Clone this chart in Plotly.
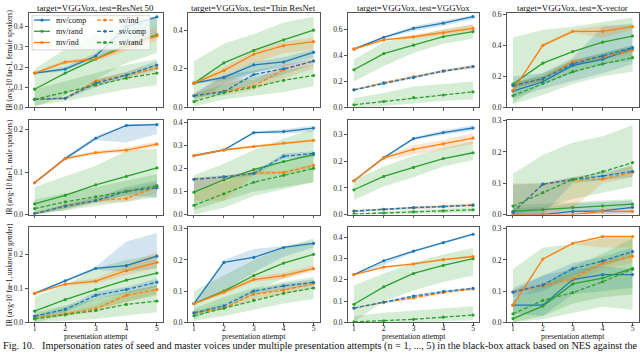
import plotly.graph_objects as go
from plotly.subplots import make_subplots

# --- data ---
attempts = [1, 2, 3, 4, 5]
series = ["mv/comp", "mv/rand", "mv/ind", "sv/ind", "sv/comp", "sv/rand"]
col_titles = ["target=VGGVox, test=ResNet 50", "target=VGGVox, test=Thin ResNet",
              "target=VGGVox, test=VGGVox", "target=VGGVox, test=X-vector"]
row_titles = ["IR (avg-10 far-1, female speakers)", "IR (avg-10 far-1, male speakers)",
              "IR (avg-10 far-1, unknown gender)"]
x_title = "presentation attempt"
caption = ("Fig. 10.&nbsp;&nbsp; Impersonation rates of seed and master voices under multiple presentation "
           "attempts (n = 1, ..., 5) in the black-box attack based on NES against the")

# each series: (mean, low, high)
female_resnet50 = {
    "mv/comp": ([0.17, 0.19, 0.255, 0.40, 0.45], [0.165, 0.18, 0.245, 0.30, 0.35], [0.175, 0.20, 0.27, 0.43, 0.45]),
    "mv/rand": ([0.09, 0.17, 0.24, 0.31, 0.36], [0.0, 0.06, 0.14, 0.22, 0.27], [0.19, 0.29, 0.36, 0.42, 0.45]),
    "mv/ind": ([0.17, 0.225, 0.24, 0.30, 0.355], [0.165, 0.215, 0.23, 0.28, 0.33], [0.175, 0.235, 0.25, 0.33, 0.40]),
    "sv/ind": ([0.04, 0.045, 0.13, 0.16, 0.195], [0.035, 0.04, 0.11, 0.145, 0.18], [0.045, 0.05, 0.14, 0.175, 0.215]),
    "sv/comp": ([0.04, 0.045, 0.12, 0.16, 0.21], [0.035, 0.04, 0.10, 0.15, 0.19], [0.045, 0.05, 0.14, 0.175, 0.23]),
    "sv/rand": ([0.04, 0.075, 0.11, 0.145, 0.17], [0.01, 0.03, 0.06, 0.09, 0.11], [0.09, 0.13, 0.17, 0.21, 0.24]),
}
female_thin = {
    "mv/comp": ([0.125, 0.155, 0.22, 0.235, 0.285], [0.12, 0.14, 0.18, 0.21, 0.25], [0.13, 0.165, 0.235, 0.26, 0.30]),
    "mv/rand": ([0.125, 0.23, 0.295, 0.35, 0.40], [0.02, 0.12, 0.18, 0.22, 0.26], [0.24, 0.33, 0.38, 0.44, 0.47]),
    "mv/ind": ([0.125, 0.19, 0.275, 0.32, 0.34], [0.12, 0.17, 0.23, 0.28, 0.30], [0.13, 0.21, 0.29, 0.34, 0.36]),
    "sv/ind": ([0.06, 0.085, 0.11, 0.195, 0.24], [0.05, 0.06, 0.09, 0.15, 0.20], [0.07, 0.16, 0.14, 0.22, 0.25]),
    "sv/comp": ([0.06, 0.08, 0.17, 0.20, 0.24], [0.05, 0.07, 0.12, 0.17, 0.22], [0.07, 0.17, 0.19, 0.22, 0.25]),
    "sv/rand": ([0.03, 0.075, 0.105, 0.14, 0.165], [0.005, 0.04, 0.06, 0.08, 0.11], [0.07, 0.12, 0.16, 0.19, 0.22]),
}
female_vggvox = {
    "mv/comp": ([0.45, 0.54, 0.61, 0.65, 0.70], [0.44, 0.53, 0.59, 0.63, 0.68], [0.46, 0.55, 0.625, 0.67, 0.71]),
    "mv/rand": ([0.29, 0.415, 0.48, 0.545, 0.585], [0.20, 0.32, 0.42, 0.49, 0.53], [0.37, 0.50, 0.55, 0.60, 0.64]),
    "mv/ind": ([0.45, 0.52, 0.545, 0.575, 0.61], [0.44, 0.51, 0.53, 0.56, 0.59], [0.46, 0.53, 0.56, 0.60, 0.64]),
    "sv/ind": ([0.135, 0.19, 0.235, 0.28, 0.315], [0.13, 0.18, 0.225, 0.27, 0.30], [0.14, 0.20, 0.245, 0.29, 0.33]),
    "sv/comp": ([0.135, 0.185, 0.23, 0.28, 0.315], [0.13, 0.18, 0.22, 0.27, 0.30], [0.14, 0.195, 0.245, 0.29, 0.325]),
    "sv/rand": ([0.02, 0.045, 0.075, 0.095, 0.12], [0.0, 0.01, 0.03, 0.05, 0.06], [0.07, 0.11, 0.16, 0.18, 0.20]),
}
female_xvector = {
    "mv/comp": ([0.105, 0.165, 0.27, 0.31, 0.38], [0.06, 0.12, 0.17, 0.22, 0.28], [0.20, 0.22, 0.32, 0.52, 0.54]),
    "mv/rand": ([0.15, 0.285, 0.36, 0.42, 0.46], [0.03, 0.15, 0.22, 0.28, 0.30], [0.45, 0.50, 0.52, 0.55, 0.58]),
    "mv/ind": ([0.11, 0.40, 0.49, 0.49, 0.52], [0.105, 0.39, 0.48, 0.45, 0.50], [0.115, 0.41, 0.50, 0.53, 0.53]),
    "sv/ind": ([0.14, 0.185, 0.295, 0.325, 0.37], [0.12, 0.17, 0.28, 0.31, 0.35], [0.16, 0.20, 0.31, 0.34, 0.39]),
    "sv/comp": ([0.14, 0.185, 0.28, 0.33, 0.385], [0.12, 0.17, 0.26, 0.31, 0.36], [0.16, 0.20, 0.30, 0.35, 0.40]),
    "sv/rand": ([0.075, 0.155, 0.23, 0.28, 0.32], [0.02, 0.08, 0.15, 0.20, 0.23], [0.15, 0.22, 0.30, 0.35, 0.40]),
}
male_resnet50 = {
    "mv/comp": ([0.075, 0.132, 0.18, 0.21, 0.212], [0.072, 0.128, 0.175, 0.17, 0.19], [0.078, 0.136, 0.185, 0.212, 0.216]),
    "mv/rand": ([0.025, 0.045, 0.07, 0.09, 0.11], [0.0, 0.01, 0.03, 0.045, 0.06], [0.065, 0.09, 0.115, 0.15, 0.155]),
    "mv/ind": ([0.075, 0.132, 0.146, 0.152, 0.166], [0.072, 0.128, 0.142, 0.146, 0.16], [0.078, 0.136, 0.15, 0.158, 0.172]),
    "sv/ind": ([0.002, 0.02, 0.033, 0.038, 0.065], [0.0, 0.015, 0.028, 0.03, 0.05], [0.005, 0.025, 0.04, 0.06, 0.075]),
    "sv/comp": ([0.002, 0.02, 0.033, 0.055, 0.063], [0.0, 0.015, 0.028, 0.045, 0.04], [0.005, 0.025, 0.04, 0.065, 0.08]),
    "sv/rand": ([0.014, 0.03, 0.042, 0.055, 0.068], [0.0, 0.01, 0.02, 0.03, 0.04], [0.035, 0.05, 0.065, 0.08, 0.095]),
}
male_thin = {
    "mv/comp": ([0.255, 0.28, 0.355, 0.36, 0.375], [0.25, 0.275, 0.35, 0.35, 0.36], [0.26, 0.285, 0.36, 0.37, 0.385]),
    "mv/rand": ([0.097, 0.15, 0.195, 0.23, 0.26], [0.02, 0.06, 0.10, 0.12, 0.14], [0.17, 0.22, 0.28, 0.33, 0.37]),
    "mv/ind": ([0.255, 0.28, 0.295, 0.31, 0.322], [0.25, 0.275, 0.29, 0.305, 0.316], [0.26, 0.285, 0.30, 0.315, 0.328]),
    "sv/ind": ([0.153, 0.163, 0.18, 0.182, 0.213], [0.06, 0.06, 0.17, 0.175, 0.205], [0.16, 0.165, 0.19, 0.19, 0.22]),
    "sv/comp": ([0.153, 0.163, 0.178, 0.253, 0.265], [0.10, 0.15, 0.17, 0.24, 0.25], [0.16, 0.17, 0.185, 0.265, 0.275]),
    "sv/rand": ([0.04, 0.09, 0.14, 0.17, 0.20], [0.0, 0.03, 0.08, 0.11, 0.14], [0.10, 0.14, 0.19, 0.23, 0.27]),
}
male_vggvox = {
    "mv/comp": ([0.127, 0.213, 0.285, 0.308, 0.325], [0.124, 0.21, 0.28, 0.30, 0.315], [0.13, 0.216, 0.29, 0.316, 0.335]),
    "mv/rand": ([0.093, 0.143, 0.177, 0.21, 0.232], [0.055, 0.105, 0.14, 0.18, 0.205], [0.13, 0.18, 0.22, 0.25, 0.275]),
    "mv/ind": ([0.127, 0.213, 0.245, 0.265, 0.287], [0.124, 0.205, 0.225, 0.245, 0.265], [0.13, 0.22, 0.26, 0.28, 0.305]),
    "sv/ind": ([0.013, 0.02, 0.026, 0.031, 0.036], [0.01, 0.016, 0.022, 0.026, 0.03], [0.016, 0.024, 0.03, 0.036, 0.042]),
    "sv/comp": ([0.013, 0.02, 0.026, 0.03, 0.035], [0.01, 0.016, 0.022, 0.026, 0.03], [0.016, 0.024, 0.03, 0.035, 0.04]),
    "sv/rand": ([0.002, 0.005, 0.01, 0.014, 0.018], [0.0, 0.0, 0.003, 0.006, 0.008], [0.006, 0.012, 0.018, 0.022, 0.028]),
}
male_xvector = {
    "mv/comp": ([0.0, 0.0, 0.01, 0.012, 0.023], [0.0, 0.0, 0.0, 0.0, 0.005], [0.02, 0.025, 0.035, 0.04, 0.045]),
    "mv/rand": ([0.01, 0.016, 0.023, 0.028, 0.033], [0.0, 0.005, 0.01, 0.015, 0.02], [0.03, 0.035, 0.04, 0.045, 0.05]),
    "mv/ind": ([0.0, 0.0, 0.0, 0.01, 0.01], [0.0, 0.0, 0.0, 0.0, 0.0], [0.005, 0.005, 0.01, 0.02, 0.02]),
    "sv/ind": ([0.007, 0.097, 0.11, 0.113, 0.135], [0.0, 0.0, 0.02, 0.10, 0.12], [0.10, 0.10, 0.12, 0.125, 0.16]),
    "sv/comp": ([0.007, 0.097, 0.112, 0.123, 0.138], [0.0, 0.0, 0.10, 0.11, 0.12], [0.095, 0.10, 0.12, 0.135, 0.155]),
    "sv/rand": ([0.027, 0.07, 0.112, 0.137, 0.166], [0.0, 0.02, 0.05, 0.07, 0.09], [0.13, 0.19, 0.23, 0.25, 0.285]),
}
unknown_resnet50 = {
    "mv/comp": ([0.086, 0.123, 0.16, 0.168, 0.196], [0.083, 0.12, 0.155, 0.15, 0.16], [0.089, 0.127, 0.165, 0.24, 0.265]),
    "mv/rand": ([0.033, 0.067, 0.097, 0.125, 0.146], [0.0, 0.02, 0.04, 0.06, 0.08], [0.075, 0.11, 0.16, 0.185, 0.20]),
    "mv/ind": ([0.086, 0.113, 0.122, 0.153, 0.178], [0.083, 0.108, 0.115, 0.14, 0.16], [0.089, 0.118, 0.13, 0.17, 0.21]),
    "sv/ind": ([0.014, 0.025, 0.04, 0.08, 0.097], [0.01, 0.02, 0.03, 0.06, 0.085], [0.018, 0.03, 0.05, 0.09, 0.11]),
    "sv/comp": ([0.018, 0.038, 0.08, 0.097, 0.119], [0.014, 0.03, 0.07, 0.085, 0.105], [0.022, 0.045, 0.09, 0.105, 0.13]),
    "sv/rand": ([0.01, 0.022, 0.035, 0.053, 0.063], [0.0, 0.005, 0.01, 0.02, 0.03], [0.03, 0.05, 0.07, 0.09, 0.11]),
}
unknown_thin = {
    "mv/comp": ([0.06, 0.192, 0.208, 0.24, 0.253], [0.058, 0.10, 0.16, 0.21, 0.24], [0.062, 0.20, 0.235, 0.245, 0.26]),
    "mv/rand": ([0.06, 0.10, 0.15, 0.19, 0.218], [0.01, 0.06, 0.10, 0.14, 0.17], [0.10, 0.15, 0.20, 0.24, 0.27]),
    "mv/ind": ([0.06, 0.097, 0.137, 0.15, 0.172], [0.058, 0.09, 0.13, 0.14, 0.162], [0.062, 0.105, 0.145, 0.16, 0.182]),
    "sv/ind": ([0.03, 0.045, 0.09, 0.103, 0.125], [0.025, 0.04, 0.075, 0.09, 0.11], [0.035, 0.05, 0.10, 0.115, 0.135]),
    "sv/comp": ([0.03, 0.053, 0.10, 0.117, 0.128], [0.025, 0.045, 0.09, 0.105, 0.118], [0.035, 0.06, 0.105, 0.125, 0.138]),
    "sv/rand": ([0.021, 0.045, 0.071, 0.093, 0.11], [0.005, 0.02, 0.04, 0.06, 0.075], [0.045, 0.08, 0.11, 0.13, 0.145]),
}
unknown_vggvox = {
    "mv/comp": ([0.225, 0.29, 0.335, 0.375, 0.415], [0.222, 0.27, 0.33, 0.37, 0.41], [0.228, 0.295, 0.34, 0.38, 0.42]),
    "mv/rand": ([0.085, 0.167, 0.23, 0.268, 0.30], [0.0, 0.10, 0.15, 0.19, 0.22], [0.175, 0.23, 0.28, 0.32, 0.35]),
    "mv/ind": ([0.225, 0.26, 0.275, 0.295, 0.31], [0.222, 0.255, 0.27, 0.29, 0.305], [0.228, 0.265, 0.28, 0.30, 0.315]),
    "sv/ind": ([0.067, 0.093, 0.115, 0.14, 0.157], [0.064, 0.09, 0.11, 0.135, 0.152], [0.07, 0.097, 0.12, 0.145, 0.162]),
    "sv/comp": ([0.067, 0.095, 0.123, 0.145, 0.16], [0.064, 0.09, 0.118, 0.14, 0.155], [0.07, 0.10, 0.128, 0.15, 0.165]),
    "sv/rand": ([0.002, 0.007, 0.014, 0.024, 0.034], [0.0, 0.0, 0.0, 0.005, 0.01], [0.03, 0.045, 0.055, 0.065, 0.075]),
}
unknown_xvector = {
    "mv/comp": ([0.055, 0.055, 0.137, 0.153, 0.153], [0.03, 0.02, 0.09, 0.10, 0.11], [0.10, 0.15, 0.17, 0.18, 0.17]),
    "mv/rand": ([0.012, 0.052, 0.123, 0.142, 0.173], [0.0, 0.02, 0.06, 0.08, 0.09], [0.17, 0.24, 0.25, 0.27, 0.27]),
    "mv/ind": ([0.055, 0.203, 0.253, 0.275, 0.275], [0.05, 0.20, 0.25, 0.24, 0.24], [0.06, 0.206, 0.256, 0.28, 0.28]),
    "sv/ind": ([0.097, 0.117, 0.14, 0.19, 0.212], [0.09, 0.11, 0.13, 0.17, 0.19], [0.105, 0.125, 0.155, 0.20, 0.225]),
    "sv/comp": ([0.097, 0.12, 0.172, 0.197, 0.227], [0.08, 0.10, 0.15, 0.18, 0.21], [0.11, 0.15, 0.19, 0.21, 0.24]),
    "sv/rand": ([0.027, 0.07, 0.095, 0.13, 0.17], [0.0, 0.01, 0.03, 0.05, 0.04], [0.07, 0.12, 0.18, 0.22, 0.27]),
}

panels = [[female_resnet50, female_thin, female_vggvox, female_xvector],
          [male_resnet50, male_thin, male_vggvox, male_xvector],
          [unknown_resnet50, unknown_thin, unknown_vggvox, unknown_xvector]]

y_max = [[0.47, 0.49, 0.73, 0.61],
         [0.223, 0.41, 0.355, 0.302],
         [0.282, 0.305, 0.448, 0.305]]
y_dtick = [[0.1, 0.2, 0.2, 0.2],
           [0.1, 0.1, 0.1, 0.1],
           [0.1, 0.1, 0.1, 0.1]]

# --- style ---
W, H = 640, 357
FONT = "Liberation Serif"
colors = {"comp": "#1f77b4", "rand": "#2ca02c", "ind": "#ff7f0e"}
fills = {"comp": "rgba(31,119,180,0.2)", "rand": "rgba(44,160,44,0.2)", "ind": "rgba(255,127,14,0.2)"}
AX = "#555555"

col_px = [(28.5, 163), (188, 319.5), (348, 479), (507, 638.5)]
row_px = [(9, 106), (119, 216), (229, 326.5)]

def px(x):
    return x / W

def py(y):
    return 1 - y / H

def label(text, x, y, size, anchor="center", angle=0):
    return dict(text=text, x=px(x), y=py(y), xref="paper", yref="paper", showarrow=False,
                xanchor=anchor, yanchor="middle", textangle=angle,
                font=dict(family=FONT, size=size, color="#111"))

fig = make_subplots(rows=3, cols=4)

for r in range(3):
    for c in range(4):
        data = panels[r][c]
        # bands first, then lines on top
        for name in series:
            mean, lo, hi = data[name]
            kind = name.split("/")[1]
            fig.add_trace(go.Scatter(x=attempts + attempts[::-1], y=lo + hi[::-1], fill="toself",
                                     fillcolor=fills[kind], line=dict(width=0), mode="lines",
                                     hoverinfo="skip", showlegend=False), row=r + 1, col=c + 1)
        for name in series:
            mean, lo, hi = data[name]
            kind = name.split("/")[1]
            fig.add_trace(go.Scatter(x=attempts, y=mean, mode="lines+markers", name=name,
                                     line=dict(color=colors[kind], width=1.3,
                                               dash="solid" if name.startswith("mv") else "4px,2px"),
                                     marker=dict(size=3.2, color=colors[kind]),
                                     showlegend=False), row=r + 1, col=c + 1)

        n = r * 4 + c + 1
        sfx = "" if n == 1 else str(n)
        fig.layout["xaxis" + sfx].update(
            domain=[px(col_px[c][0]), px(col_px[c][1])], range=[0.8, 5.2],
            tickvals=attempts, showticklabels=(r == 2), ticks="outside", ticklen=3,
            ticklabelstandoff=-4,
            tickcolor=AX, tickwidth=0.8, showline=True, mirror=True, linecolor=AX,
            linewidth=0.8, showgrid=False, zeroline=False,
            tickfont=dict(family=FONT, size=7.5, color="#222"))
        fig.layout["yaxis" + sfx].update(
            domain=[py(row_px[r][1]), py(row_px[r][0])], range=[0, y_max[r][c]],
            dtick=y_dtick[r][c], tick0=0, tickformat=".1f", ticks="outside", ticklen=3,
            tickcolor=AX, tickwidth=0.8, showline=True, mirror=True, linecolor=AX,
            linewidth=0.8, showgrid=False, zeroline=False,
            tickfont=dict(family=FONT, size=7.5, color="#222"))

annotations = []
for c, t in enumerate(col_titles):
    annotations.append(label(t, (col_px[c][0] + col_px[c][1]) / 2, 4.5, 8.8))
for r, t in enumerate(row_titles):
    annotations.append(label(t, 9.5, (row_px[r][0] + row_px[r][1]) / 2, 7.3, angle=-90))
for c in range(4):
    annotations.append(label(x_title, (col_px[c][0] + col_px[c][1]) / 2, 341, 7.8))
annotations.append(label(caption, 1, 350.5, 10.2, anchor="left"))

# legend box in the top-left panel (two columns, like matplotlib ncol=2)
shapes = [dict(type="rect", xref="paper", yref="paper", x0=px(32), x1=px(150), y0=py(47), y1=py(12),
               fillcolor="rgba(255,255,255,0.8)", line=dict(color="#cccccc", width=0.8), layer="above")]
legend_cols = [["mv/comp", "mv/rand", "mv/ind"], ["sv/ind", "sv/comp", "sv/rand"]]
legend_x = [(34, 50, 54), (97, 113, 117)]
legend_y = [16.5, 28, 39.5]
for ci, names in enumerate(legend_cols):
    x0, x1, xt = legend_x[ci]
    for ri, name in enumerate(names):
        kind = name.split("/")[1]
        yy = legend_y[ri]
        shapes.append(dict(type="line", xref="paper", yref="paper", x0=px(x0), x1=px(x1), y0=py(yy), y1=py(yy),
                           line=dict(color=colors[kind], width=1.3,
                                     dash="solid" if name.startswith("mv") else "4px,2px"), layer="above"))
        xm = (x0 + x1) / 2
        shapes.append(dict(type="circle", xref="paper", yref="paper", x0=px(xm - 1.6), x1=px(xm + 1.6),
                           y0=py(yy + 1.6), y1=py(yy - 1.6), fillcolor=colors[kind],
                           line=dict(width=0), layer="above"))
        annotations.append(label(name, xt, yy, 8, anchor="left"))

fig.update_layout(width=W, height=H, margin=dict(l=0, r=0, t=0, b=0),
                  paper_bgcolor="white", plot_bgcolor="white",
                  annotations=annotations, shapes=shapes, showlegend=False,
                  font=dict(family=FONT))

# the page's default 8px body margin would push the 640px figure off the window
fig.write_html("out.html", config={"displayModeBar": False},
               post_script="document.body.style.margin = '0';")
